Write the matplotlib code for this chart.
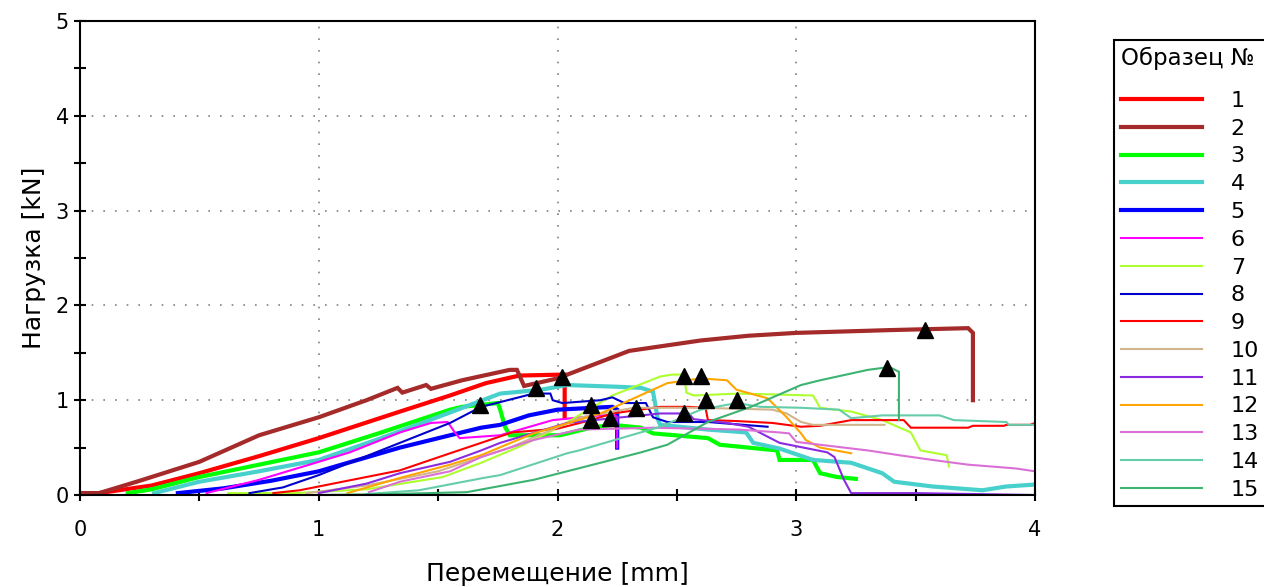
import matplotlib
matplotlib.use("Agg")
import matplotlib.pyplot as plt
from matplotlib.ticker import MultipleLocator

# ---------------- data (displacement mm, load kN) ----------------
x1 = [0, 0.08, 0.3, 0.5, 0.75, 1.0, 1.34, 1.55, 1.7, 1.84, 2.02, 2.03, 2.03]
y1 = [0.02, 0.02, 0.10, 0.23, 0.41, 0.60, 0.88, 1.05, 1.18, 1.26, 1.27, 1.27, 0.82]

x2 = [0, 0.08, 0.25, 0.5, 0.75, 1.0, 1.2, 1.33, 1.35, 1.45, 1.47, 1.6, 1.8, 1.83, 1.86,
      2.0, 2.3, 2.6, 2.8, 3.0, 3.4, 3.72, 3.74, 3.74, 3.74]
y2 = [0.02, 0.02, 0.15, 0.35, 0.63, 0.82, 1.0, 1.13, 1.08, 1.16, 1.12, 1.21, 1.32, 1.32, 1.15,
      1.23, 1.52, 1.63, 1.68, 1.71, 1.74, 1.76, 1.71, 1.42, 1.0]

x3 = [0.2, 0.3, 0.5, 0.75, 1.0, 1.25, 1.55, 1.6, 1.75, 1.76, 1.78, 1.8, 2.01, 2.14, 2.23,
      2.35, 2.4, 2.63, 2.68, 2.92, 2.93, 3.07, 3.1, 3.17, 3.25]
y3 = [0.02, 0.06, 0.19, 0.32, 0.45, 0.65, 0.90, 0.93, 0.97, 0.90, 0.72, 0.63, 0.63, 0.71, 0.74,
      0.71, 0.65, 0.60, 0.53, 0.47, 0.37, 0.37, 0.23, 0.19, 0.17]

x4 = [0.31, 0.5, 0.75, 1.0, 1.25, 1.55, 1.76, 1.93, 2.04, 2.27, 2.35, 2.40, 2.41, 2.42, 2.43,
      2.63, 2.79, 2.82, 2.93, 3.07, 3.23, 3.36, 3.41, 3.57, 3.78, 3.88, 4.0]
y4 = [0.02, 0.14, 0.25, 0.37, 0.59, 0.87, 1.07, 1.11, 1.16, 1.14, 1.13, 1.09, 0.95, 0.80, 0.74,
      0.69, 0.66, 0.55, 0.49, 0.37, 0.34, 0.23, 0.14, 0.09, 0.05, 0.09, 0.11]

x5 = [0.41, 0.6, 0.8, 1.0, 1.34, 1.55, 1.68, 1.76, 1.88, 2.0, 2.15, 2.23, 2.25, 2.25]
y5 = [0.02, 0.07, 0.15, 0.25, 0.50, 0.63, 0.71, 0.74, 0.84, 0.90, 0.92, 0.93, 0.90, 0.50]

x6 = [0.53, 0.75, 1.0, 1.13, 1.34, 1.47, 1.54, 1.57, 1.59, 1.76, 1.98, 2.18, 2.24, 2.25, 2.25]
y6 = [0.02, 0.16, 0.35, 0.45, 0.66, 0.76, 0.77, 0.66, 0.60, 0.63, 0.79, 0.84, 0.84, 0.82, 0.50]

x7 = [0.62, 0.9, 1.2, 1.52, 1.68, 1.85, 2.01, 2.23, 2.43, 2.48, 2.53, 2.54, 2.57, 2.76, 3.07,
      3.10, 3.23, 3.36, 3.48, 3.52, 3.63, 3.64]
y7 = [0.02, 0.02, 0.06, 0.19, 0.34, 0.52, 0.72, 1.05, 1.25, 1.27, 1.27, 1.08, 1.05, 1.07, 1.05,
      0.92, 0.88, 0.79, 0.66, 0.47, 0.42, 0.30]

x8 = [0.71, 0.85, 1.0, 1.34, 1.55, 1.68, 1.76, 1.90, 1.97, 1.98, 2.02, 2.18, 2.23, 2.28, 2.37,
      2.40, 2.46, 2.63, 2.88]
y8 = [0.02, 0.08, 0.21, 0.55, 0.76, 0.93, 0.98, 1.07, 1.07, 1.00, 0.97, 1.00, 1.03, 0.97, 0.97,
      0.82, 0.77, 0.77, 0.72]

x9 = [0.81, 0.92, 1.34, 1.55, 1.68, 1.81, 2.0, 2.14, 2.23, 2.43, 2.55, 2.62, 2.63, 2.75, 2.9,
      3.02, 3.1, 3.23, 3.45, 3.48, 3.72, 3.74, 3.87, 3.88, 3.98, 4.0]
y9 = [0.02, 0.05, 0.26, 0.44, 0.55, 0.66, 0.70, 0.79, 0.86, 0.93, 0.93, 0.92, 0.79, 0.78, 0.76,
      0.72, 0.73, 0.79, 0.79, 0.71, 0.71, 0.73, 0.73, 0.74, 0.74, 0.76]

x10 = [0.95, 1.2, 1.5, 1.8, 2.1, 2.32, 2.6, 2.9, 2.96, 3.02, 3.07, 3.37]
y10 = [0.02, 0.10, 0.25, 0.50, 0.82, 0.92, 0.92, 0.90, 0.86, 0.77, 0.74, 0.74]

x11 = [1.0, 1.2, 1.34, 1.55, 1.68, 1.76, 2.04, 2.23, 2.43, 2.55, 2.57, 2.71, 2.8, 2.93, 3.13,
       3.16, 3.2, 3.23, 3.5, 4.0]
y11 = [0.02, 0.12, 0.23, 0.35, 0.47, 0.55, 0.76, 0.81, 0.86, 0.86, 0.80, 0.76, 0.72, 0.55, 0.45,
       0.40, 0.16, 0.02, 0.02, 0.0]

x12 = [1.12, 1.34, 1.55, 1.68, 1.9, 2.18, 2.46, 2.6, 2.71, 2.75, 2.88, 2.96, 3.02, 3.04, 3.1, 3.23]
y12 = [0.02, 0.18, 0.32, 0.42, 0.65, 0.86, 1.18, 1.23, 1.21, 1.11, 1.02, 0.82, 0.65, 0.58, 0.50, 0.44]

x13 = [1.21, 1.34, 1.55, 1.68, 1.9, 2.09, 2.40, 2.76, 2.93, 2.97, 3.0, 3.3, 3.43, 3.57, 3.72, 3.92, 4.0]
y13 = [0.03, 0.14, 0.25, 0.40, 0.58, 0.69, 0.71, 0.69, 0.66, 0.65, 0.56, 0.47, 0.42, 0.37, 0.32, 0.28, 0.25]

x14 = [1.2, 1.42, 1.69, 1.76, 2.04, 2.09, 2.43, 2.6, 2.75, 2.85, 3.02, 3.18, 3.23, 3.36, 3.6,
       3.66, 3.88, 3.89, 4.0]
y14 = [0.01, 0.05, 0.18, 0.21, 0.44, 0.47, 0.72, 0.90, 0.97, 0.93, 0.92, 0.90, 0.81, 0.84, 0.84,
       0.79, 0.77, 0.74, 0.74]

x15 = [1.0, 1.3, 1.62, 1.9, 2.18, 2.35, 2.46, 2.63, 2.81, 3.02, 3.1, 3.3, 3.39, 3.43, 3.43]
y15 = [0.0, 0.01, 0.03, 0.16, 0.34, 0.45, 0.53, 0.77, 0.93, 1.16, 1.21, 1.32, 1.35, 1.30, 0.79]

tri_x = [1.675, 1.91, 2.02, 2.14, 2.14, 2.22, 2.33, 2.53, 2.60, 2.62, 2.53, 2.75, 3.38, 3.54]
tri_y = [0.95, 1.13, 1.25, 0.95, 0.79, 0.81, 0.92, 1.26, 1.26, 1.00, 0.86, 1.00, 1.34, 1.74]

labels = [str(i) for i in range(1, 16)]
colors = ["#ff0000", "#a52a2a", "#00ff00", "#48d1cc", "#0000ff", "#ff00ff", "#adff2f",
          "#0000cd", "#ff0000", "#d2b48c", "#8a2be2", "#ffa500", "#da70d6", "#66cdaa", "#3cb371"]
widths = [3, 3, 3, 3, 3, 1.5, 1.5, 1.5, 1.5, 1.5, 1.5, 1.5, 1.5, 1.5, 1.5]

xs = [x1, x2, x3, x4, x5, x6, x7, x8, x9, x10, x11, x12, x13, x14, x15]
ys = [y1, y2, y3, y4, y5, y6, y7, y8, y9, y10, y11, y12, y13, y14, y15]

# ---------------- figure ----------------
W, H = 1264, 587
fig = plt.figure(figsize=(W / 100, H / 100), dpi=100)
ax = fig.add_axes([80 / W, 1 - 495 / H, (1035 - 80) / W, (495 - 21) / H])

handles = []
for x, y, c, lw, lab in zip(xs, ys, colors, widths, labels):
    h, = ax.plot(x, y, color=c, lw=lw, label=lab, solid_joinstyle="miter")
    handles.append(h)

ax.plot(tri_x, tri_y, linestyle="none", marker="^", color="black", markersize=12, zorder=5)

ax.set_xlim(0, 4)
ax.set_ylim(0, 5)
ax.xaxis.set_major_locator(MultipleLocator(1))
ax.xaxis.set_minor_locator(MultipleLocator(0.5))
ax.yaxis.set_major_locator(MultipleLocator(1))
ax.yaxis.set_minor_locator(MultipleLocator(0.5))
ax.grid(True, which="major", color="#808080", linestyle=(0, (1, 6)), linewidth=1.2)
ax.tick_params(axis="both", which="both", direction="inout", length=8, width=1.5,
               color="black", labelsize=15)
ax.tick_params(axis="x", pad=14)
ax.tick_params(axis="y", pad=4)
for s in ax.spines.values():
    s.set_linewidth(1.5)
    s.set_color("black")

ax.set_xlabel("Перемещение [mm]", fontsize=18, labelpad=16)
ax.set_ylabel("Нагрузка [kN]", fontsize=18, labelpad=7)

top = 1 - 40 / H
leg = ax.legend(handles=handles, title="Образец №", loc="upper left",
                bbox_to_anchor=(1114 / W, 0, 220 / W, top), bbox_transform=fig.transFigure,
                mode="expand",
                fontsize=16, title_fontsize=16.5, alignment="left",
                handlelength=3.65, handletextpad=1.3, labelspacing=0.35,
                borderpad=0.3, borderaxespad=0, fancybox=False, framealpha=1,
                edgecolor="black")
leg.get_frame().set_linewidth(1.5)
try:
    leg._legend_box.sep = 0.35 * 16 + 9.5
except Exception:
    pass

fig.savefig("out.png", dpi=100)
